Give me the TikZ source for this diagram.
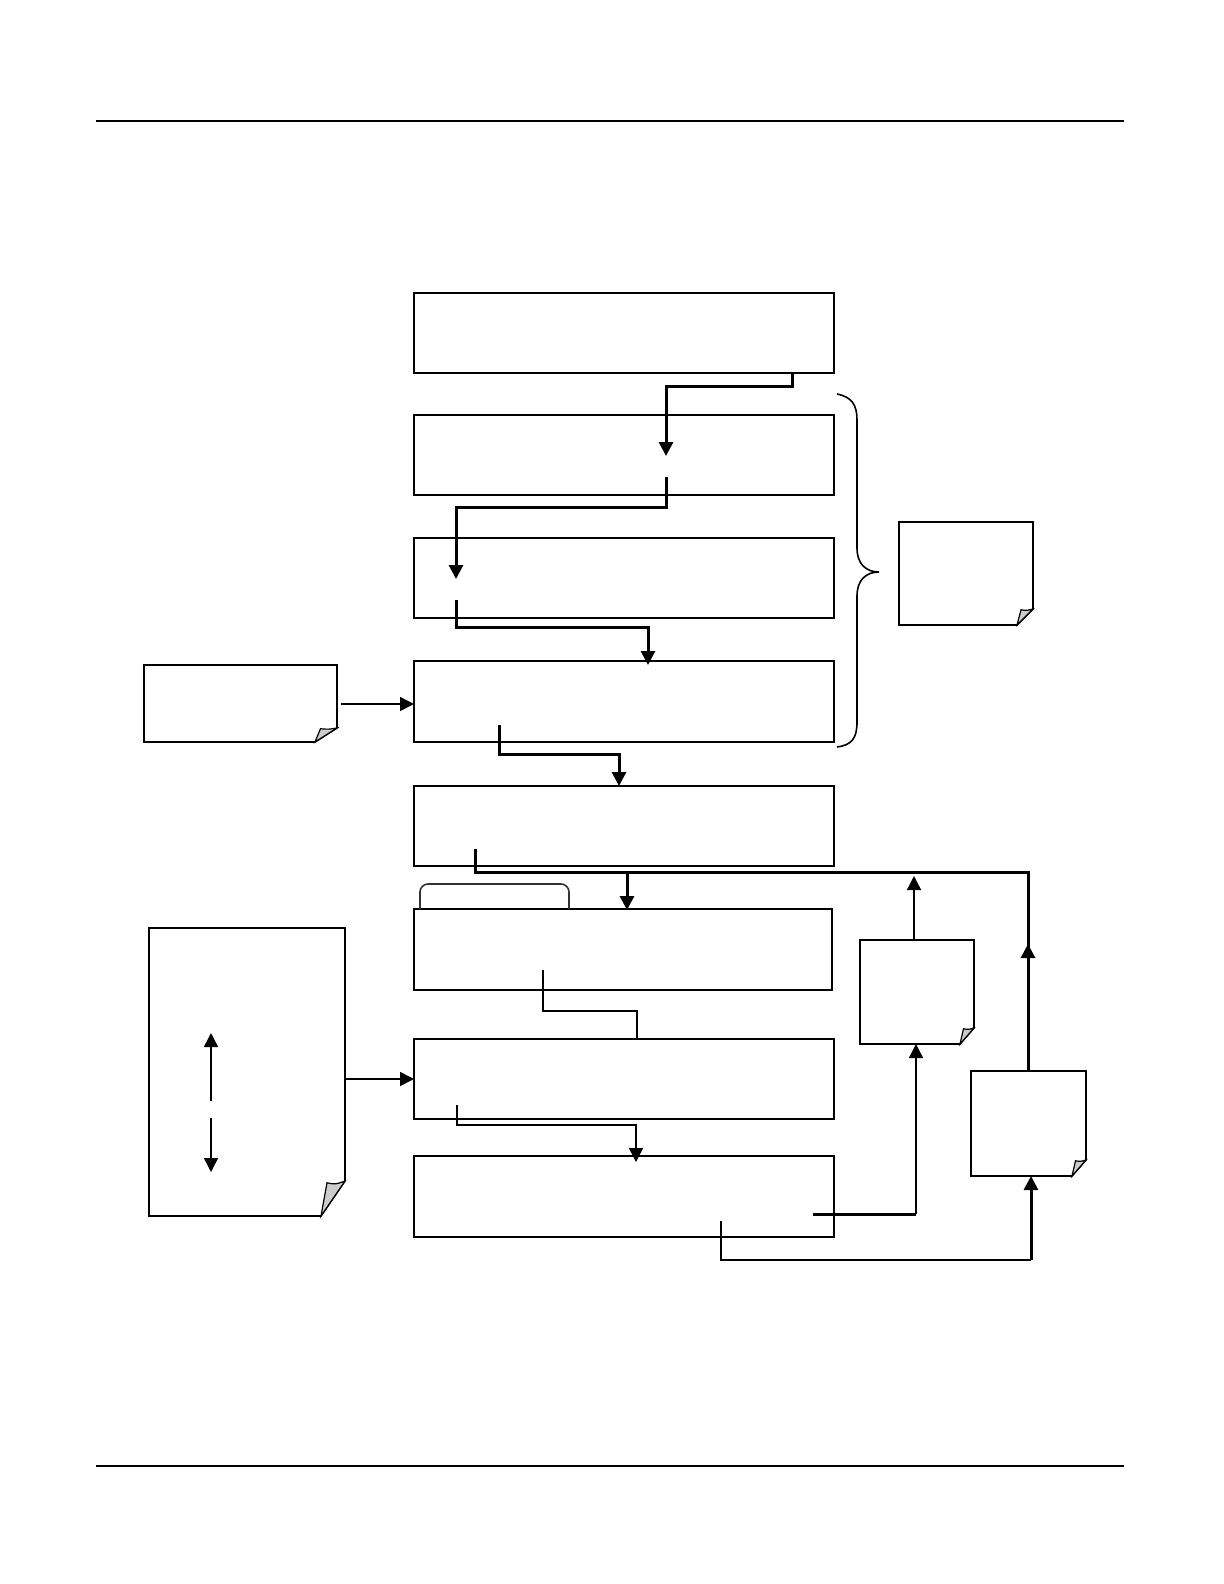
\documentclass[tikz,border=0pt]{standalone}
\usetikzlibrary{arrows.meta,calc}
\tikzset{
  boxnode/.style={draw, line width=1pt, anchor=north west, minimum width=210pt, minimum height=40pt, inner sep=0pt, outer sep=0pt},
  notenode/.style={draw=none, anchor=north west, inner sep=0pt, outer sep=0pt},
  thk/.style={line width=1.5pt},
  thn/.style={line width=0.75pt},
  tip/.style={-{Triangle[length=7pt,width=7pt]}},
  rule/.style={line width=1pt}
}
\newcommand\foldnote[3]{%
  \draw[line width=0.8pt] (#1.north west) -- (#1.north east) -- ($(#1.south east)+(0,-#3)$) -- ($(#1.south east)+(-#2,0)$) -- (#1.south west) -- cycle;
  \draw[line width=0.6pt, fill=black!20] ($(#1.south east)+(-#2,0)$) -- ($(#1.south east)+(-0.75*#2,-0.95*#3)$) .. controls ($(#1.south east)+(-0.4*#2,-0.9*#3)$) .. ($(#1.south east)+(0,-#3)$) -- cycle;
}
\begin{document}
\begin{tikzpicture}[x=0.5pt,y=-0.5pt]
\useasboundingbox (0,0) rectangle (1224,1584);
% header / footer
\coordinate (hl) at (96,121); \coordinate (hr) at (1124,121);
\coordinate (fl) at (96,1466); \coordinate (fr) at (1124,1466);
\draw[rule] (hl) -- (hr);
\draw[rule] (fl) -- (fr);
% boxes
\node[boxnode] (b1) at (414,293) {};
\node[boxnode] (b2) at (414,415) {};
\node[boxnode] (b3) at (414,538) {};
\node[boxnode, minimum height=40.5pt] (b4) at (414,661) {};
\node[boxnode] (b5) at (414,786) {};
\node[boxnode, minimum width=209pt, minimum height=40.5pt] (b6) at (414,909) {};
\node[boxnode] (b7) at (414,1039) {};
\node[boxnode, minimum height=40.5pt] (b8) at (414,1156) {};
% notes
\node[notenode, minimum width=96.5pt, minimum height=38.5pt] (n1) at (144,665) {};
\foldnote{n1}{22}{14}
\node[notenode, minimum width=67pt, minimum height=51.5pt] (n2) at (899,522) {};
\foldnote{n2}{16}{16}
\node[notenode, minimum width=98pt, minimum height=144pt] (n3) at (149,928) {};
\foldnote{n3}{24}{35}
\node[notenode, minimum width=57pt, minimum height=52pt] (n4) at (860,940) {};
\foldnote{n4}{14}{16}
\node[notenode, minimum width=57.5pt, minimum height=52.5pt] (n5) at (971,1071) {};
\foldnote{n5}{14}{16}
% brace
\coordinate (brT) at (837,394); \coordinate (brM) at (879,572); \coordinate (brB) at (837,747);
\draw[line width=0.8pt] (brT) .. controls (852,397) and (857,405) .. (857,420) -- (857,548)
  .. controls (857,564) and (866,572) .. (brM)
  .. controls (866,572) and (857,580) .. (857,596) -- (857,722)
  .. controls (857,738) and (852,745) .. (brB);
% connectors
\coordinate (a1) at (792,373); \coordinate (a1e) at (666,456);
\draw[thk,tip] (a1) -- (792,386) -- (666,386) -- (a1e);
\coordinate (a2) at (666,477); \coordinate (a2e) at (456,579);
\draw[thk,tip] (a2) -- (666,507) -- (456,507) -- (a2e);
\coordinate (a3) at (456,600); \coordinate (a3e) at (648,665);
\draw[thk,tip] (a3) -- (456,627) -- (648,627) -- (a3e);
\coordinate (a4) at (499,725); \coordinate (a4e) at (619,786);
\draw[thk,tip] (a4) -- (499,754) -- (619,754) -- (a4e);
\draw[thn,tip] (n1.east |- 0,704) ++(4,0) -- (b4.west |- 0,704);
% box5 outgoing line and return
\coordinate (a5) at (475,849);
\draw[thk] (a5) -- (475,872) -- (1028,872) -- (n5.north -| 1028,0);
\draw[thk,tip] (n5.north -| 1028,0) -- (1028,944);
\draw[thn,tip] (n4.north -| 914,0) -- (914,876);
\draw[thk,tip] (627,872) -- (627,910);
% tab
\draw[line width=0.8pt, black!80, rounded corners=4pt] (420,909) -- (420,884) -- (569,884) -- (569,909);
% box6 -> box7
\coordinate (a6) at (543,970);
\draw[thn] (a6) -- (543,1011) -- (637,1011) -- (b7.north -| 637,0);
\draw[thn,tip] (n3.east |- 0,1079) -- (b7.west |- 0,1079);
% inner double arrows of tall note
\draw[thn,tip] (211,1101) -- (211,1033);
\draw[thn,tip] (211,1118) -- (211,1172);
% box7 -> box8
\coordinate (a7) at (457,1105);
\draw[thn,tip] (a7) -- (457,1125) -- (636,1125) -- (636,1162);
% box8 -> notes
\coordinate (a8) at (813,1214);
\draw[thk] (a8) -- (916,1214);
\draw[thn,tip] (916,1214) -- (n4.south -| 916,0);
\coordinate (a9) at (721,1221);
\draw[thn] (a9) -- (721,1260) -- (1031,1260);
\draw[thk,tip] (1031,1260) -- (n5.south -| 1031,0);
\end{tikzpicture}
\end{document}
